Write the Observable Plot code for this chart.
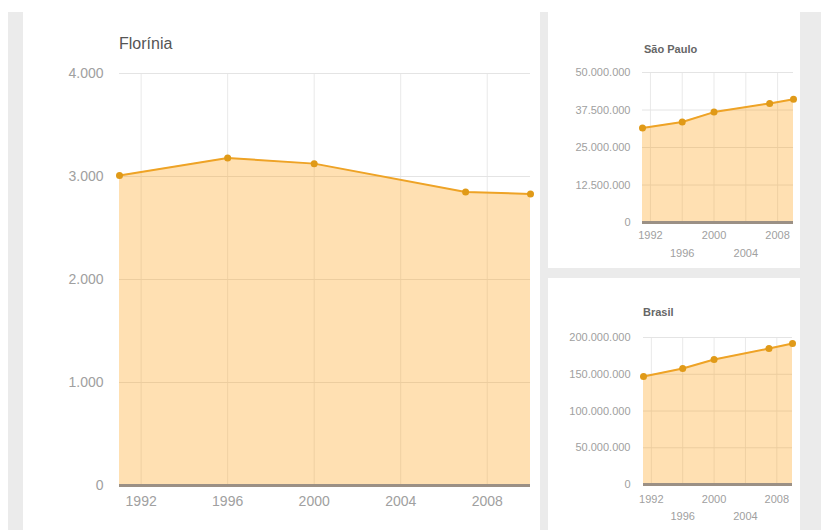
<!DOCTYPE html>
<html>
<head>
<meta charset="utf-8">
<script src="https://cdn.jsdelivr.net/npm/d3@7"></script>
<script src="https://cdn.jsdelivr.net/npm/@observablehq/plot@0.6"></script>
<style>
  html, body { margin: 0; padding: 0; background: #fff; }
  #page { position: relative; width: 821px; height: 530px; overflow: hidden; font-family: "Liberation Sans", Arial, sans-serif; }
  #bg { position: absolute; left: 8px; top: 12px; width: 813px; height: 518px; background: #ebebeb; }
  .card { position: absolute; background: #fff; overflow: hidden; }
  .card svg { position: absolute; left: 0; top: 0; background: transparent; }
  .title { position: absolute; white-space: nowrap; color: #555; }
</style>
</head>
<body>
<div id="page">
  <div id="bg"></div>
  <div class="card" id="main" style="left:23px; top:12px; width:517px; height:518px;">
    <div class="title" style="left:96px; top:23px; font-size:16px; color:#555;">Florínia</div>
  </div>
  <div class="card" id="sp" style="left:548px; top:12px; width:252px; height:256px;">
    <div class="title" style="left:96px; top:31px; font-size:11px; font-weight:bold; color:#666;">São Paulo</div>
  </div>
  <div class="card" id="br" style="left:548px; top:278px; width:252px; height:252px;">
    <div class="title" style="left:95px; top:28px; font-size:11px; font-weight:bold; color:#666;">Brasil</div>
  </div>
</div>
<script>
// ---- data ----
const years = [1991, 1996, 2000, 2007, 2010];
const floriniaPop = [3010, 3180, 3125, 2850, 2830];
const saoPauloPop = [31500000, 33500000, 36800000, 39700000, 41100000];
const brasilPop = [146900000, 157800000, 170000000, 185000000, 191800000];
const xTicks = [1992, 1996, 2000, 2004, 2008];
const xTicksRow1 = [1992, 2000, 2008];
const xTicksRow2 = [1996, 2004];
const floriniaTicks = [0, 1000, 2000, 3000, 4000];
const saoPauloTicks = [0, 12500000, 25000000, 37500000, 50000000];
const brasilTicks = [0, 50000000, 100000000, 150000000, 200000000];

const ptFmt = d3.formatLocale({decimal: ",", thousands: ".", grouping: [3], currency: ["R$ ", ""]}).format(",d");

function panel({w, h, ml, mr, mt, mb, values, yTicks, fontSize, yPad, stagger, xPad1, xPad2}) {
  const data = years.map((year, i) => ({year, value: values[i]}));
  const marks = [
    Plot.gridX(xTicks, {stroke: "#e9e9e9", strokeOpacity: 1}),
    Plot.gridY(yTicks, {stroke: "#e4e4e4", strokeOpacity: 1}),
    Plot.areaY(data, {x: "year", y: "value", fill: "#ff9900", fillOpacity: 0.3}),
    Plot.ruleY([0], {stroke: "#9b9085", strokeWidth: 3}),
    Plot.lineY(data, {x: "year", y: "value", stroke: "#eea326", strokeWidth: 2}),
    Plot.dot(data, {x: "year", y: "value", r: 3.5, fill: "#e09a18"}),
    Plot.axisY(yTicks, {tickSize: 0, tickPadding: yPad, tickFormat: ptFmt, fill: "#a0a0a0", fontSize, label: null})
  ];
  if (stagger) {
    marks.push(Plot.axisX(xTicksRow1, {tickSize: 0, tickPadding: xPad1, tickFormat: d => String(d), fill: "#a0a0a0", fontSize, label: null}));
    marks.push(Plot.axisX(xTicksRow2, {tickSize: 0, tickPadding: xPad2, tickFormat: d => String(d), fill: "#a0a0a0", fontSize, label: null}));
  } else {
    marks.push(Plot.axisX(xTicks, {tickSize: 0, tickPadding: xPad1, tickFormat: d => String(d), fill: "#a0a0a0", fontSize, label: null}));
  }
  return Plot.plot({
    width: w, height: h,
    marginLeft: ml, marginRight: mr, marginTop: mt, marginBottom: mb,
    style: {fontFamily: "'Liberation Sans', Arial, sans-serif", background: "transparent", overflow: "visible"},
    x: {type: "linear", domain: [1991, 2010], label: null},
    y: {domain: [yTicks[0], yTicks[yTicks.length - 1]], label: null},
    marks
  });
}

document.getElementById("main").prepend(panel({
  w: 517, h: 518, ml: 96, mr: 10, mt: 61, mb: 45,
  values: floriniaPop, yTicks: floriniaTicks, fontSize: 14, yPad: 16, stagger: false, xPad1: 11
}));
document.getElementById("sp").prepend(panel({
  w: 252, h: 256, ml: 94, mr: 7, mt: 60, mb: 46,
  values: saoPauloPop, yTicks: saoPauloTicks, fontSize: 11, yPad: 12, stagger: true, xPad1: 9, xPad2: 27
}));
document.getElementById("br").prepend(panel({
  w: 252, h: 252, ml: 95, mr: 8, mt: 59, mb: 46,
  values: brasilPop, yTicks: brasilTicks, fontSize: 11, yPad: 13, stagger: true, xPad1: 11, xPad2: 28
}));
</script>
</body>
</html>
